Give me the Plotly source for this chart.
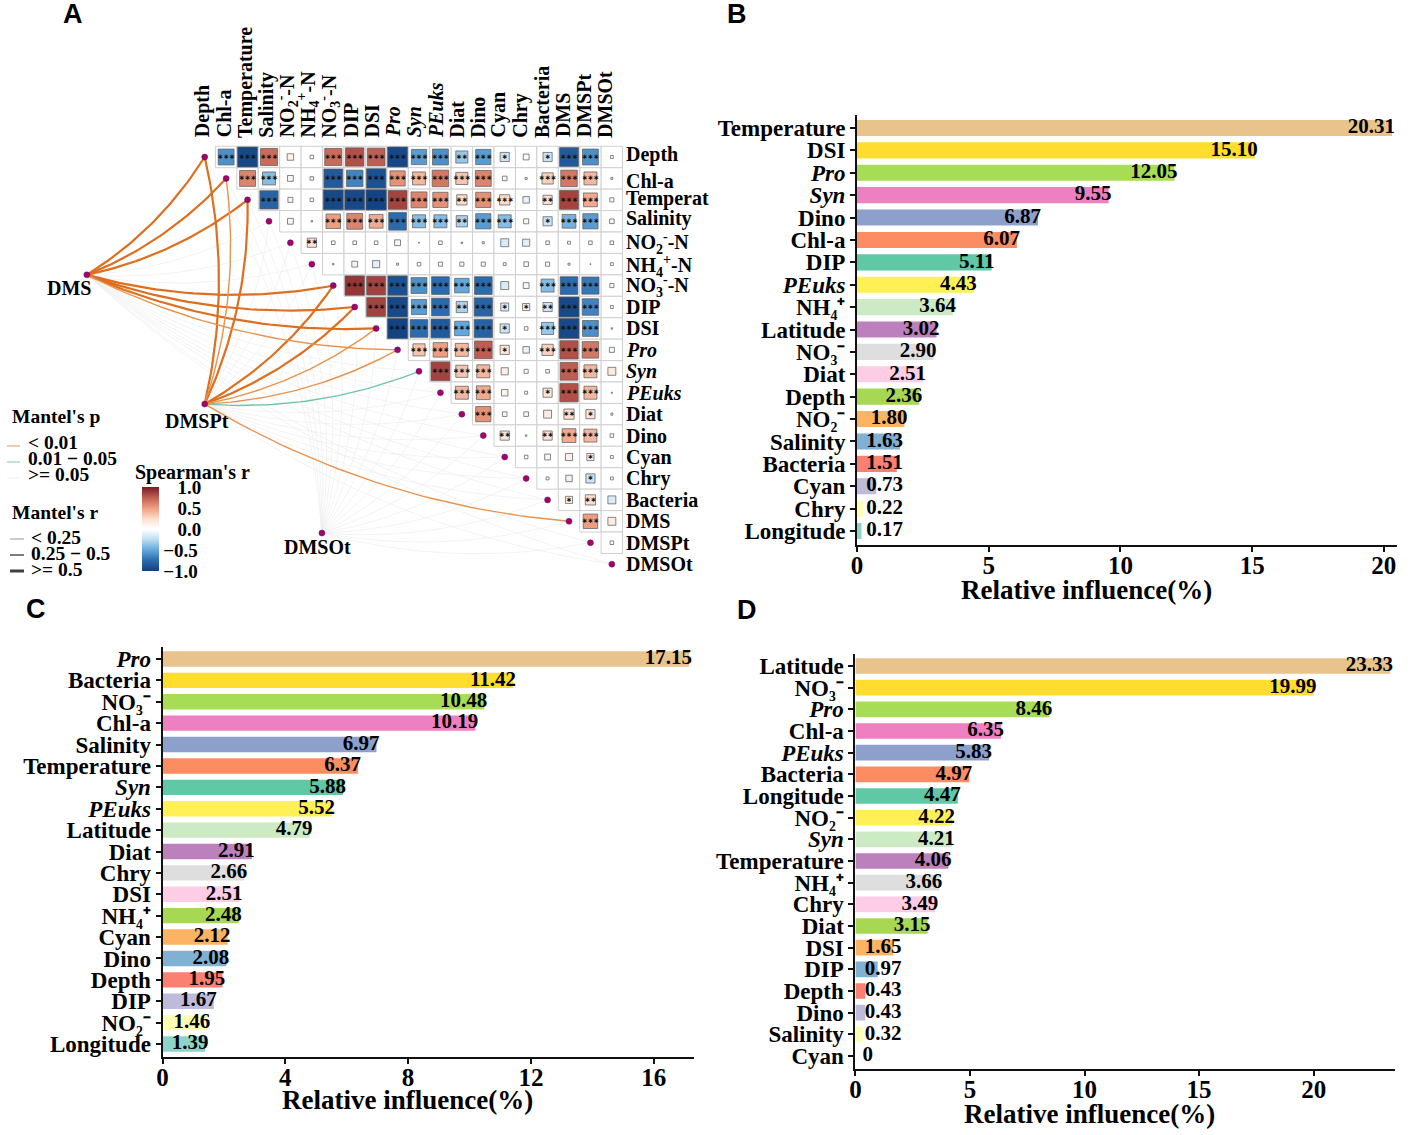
import numpy as np
import plotly.graph_objects as go

W, H = 1417, 1135
SERIF = "Liberation Serif"
SANS = "Liberation Sans"

# ---------- Panel A data ----------
variables = ["Depth", "Chl-a", "Temperature", "Salinity", "NO2", "NH4", "NO3", "DIP", "DSI", "Pro",
             "Syn", "PEuks", "Diat", "Dino", "Cyan", "Chry", "Bacteria", "DMS", "DMSPt", "DMSOt"]
top_labels = ["Depth", "Chl-a", "Temperature", "Salinity", "NO<sub>2</sub><sup>-</sup>-N", "NH<sub>4</sub><sup>+</sup>-N",
              "NO<sub>3</sub><sup>-</sup>-N", "DIP", "DSI", "<i>Pro</i>", "<i>Syn</i>", "<i>PEuks</i>", "Diat", "Dino",
              "Cyan", "Chry", "Bacteria", "DMS", "DMSPt", "DMSOt"]
row_labels = top_labels[:2] + ["Temperat"] + top_labels[3:]

corr_r = [
    [-.6, -.95, .7, .1, .03, .7, .8, .75, -.95, -.55, -.6, -.35, -.55, -.2, .08, -.2, -.85, -.6, -.02],
    [.6, -.4, .08, .03, -.85, -.65, -.9, .55, .4, .65, .35, .6, -.05, -.01, .3, .65, .4, -.01],
    [-.8, -.06, -.03, -.95, -.95, -.98, .85, .6, .55, .25, .55, .25, -.1, .2, .85, .45, -.04],
    [.08, .005, .5, .6, .45, -.75, -.4, -.4, -.3, -.55, -.4, .06, -.2, -.45, -.55, -.05],
    [.2, .03, .03, .03, .08, .002, .03, .005, .01, -.15, -.12, .03, .02, .03, .03],
    [.005, -.08, -.12, .01, .03, .04, .04, .04, .02, .05, .04, .01, .002, .02],
    [.9, .85, -.9, -.6, -.75, -.5, -.75, -.15, .08, -.4, -.75, -.7, -.04],
    [.85, -.95, -.55, -.75, -.3, -.8, -.15, .12, -.2, -.95, -.65, -.02],
    [-.98, -.75, -.85, -.5, -.8, -.2, -.03, -.35, -.95, -.6, -.005],
    [.35, .5, .4, .75, .2, -.1, .3, .8, .65, -.06],
    [.85, .35, .4, .12, .04, .03, .75, .4, .15],
    [.4, .45, .1, .02, .2, .8, .4, -.003],
    [.55, .05, .05, .15, .25, .2, .01],
    [.2, -.005, .2, .45, .4, .03],
    [.03, .08, .12, .12, -.02],
    [.02, -.1, -.2, .02],
    [.12, .25, -.15],
    [.5, .15],
    [.03],
]
corr_stars = [
    [3, 3, 3, 0, 0, 3, 3, 3, 3, 3, 3, 2, 3, 1, 0, 1, 3, 3, 0],
    [3, 3, 0, 0, 3, 3, 3, 3, 3, 3, 3, 3, 0, 0, 3, 3, 3, 0],
    [3, 0, 0, 3, 3, 3, 3, 3, 3, 2, 3, 3, 0, 2, 3, 3, 0],
    [0, 0, 3, 3, 3, 3, 3, 3, 2, 3, 3, 0, 1, 3, 3, 0],
    [2, 0, 0, 0, 0, 0, 0, 0, 0, 0, 0, 0, 0, 0, 0],
    [0, 0, 0, 0, 0, 0, 0, 0, 0, 0, 0, 0, 0, 0],
    [3, 3, 3, 3, 3, 3, 3, 0, 0, 3, 3, 3, 0],
    [3, 3, 3, 3, 2, 3, 1, 1, 2, 3, 3, 0],
    [3, 3, 3, 3, 3, 1, 0, 3, 3, 3, 0],
    [3, 3, 3, 3, 1, 0, 3, 3, 3, 0],
    [3, 3, 3, 0, 0, 0, 3, 3, 0],
    [3, 3, 0, 0, 1, 3, 3, 0],
    [3, 0, 0, 0, 2, 1, 0],
    [2, 0, 2, 3, 3, 0],
    [0, 0, 0, 1, 0],
    [0, 0, 1, 0],
    [1, 2, 0],
    [3, 0],
    [0],
]
# Mantel links: p class 0 (<0.01), 1 (0.01-0.05), 2 (>=0.05); r class 0 (<0.25), 1, 2 (>=0.5)
dms_p = [0, 0, 0, 2, 2, 2, 0, 0, 0, 0, 2, 2, 2, 2, 2, 2, 2, None, 2, 2]
dms_w = [2, 2, 2, 0, 0, 0, 2, 2, 2, 1, 0, 0, 0, 0, 0, 0, 0, None, 0, 0]
dmspt_p = [0, 0, 0, 2, 2, 2, 0, 0, 0, 0, 1, 2, 2, 2, 2, 2, 2, 0, None, 2]
dmspt_w = [2, 1, 2, 0, 0, 0, 2, 2, 1, 1, 1, 0, 0, 0, 0, 0, 0, 1, None, 0]
dmsot_p = [2] * 19 + [None]
dmsot_w = [0] * 19 + [None]
hubs = {"DMS": (-5.5, 5.5), "DMSPt": (0.0, 11.53), "DMSOt": (5.47, 17.55)}
hub_links = {"DMS": (dms_p, dms_w), "DMSPt": (dmspt_p, dmspt_w), "DMSOt": (dmsot_p, dmsot_w)}

# ---------- Bar panel data ----------
bar_colors = ["#E8C48C", "#FFDD2E", "#A6DD55", "#EE7FC0", "#8DA0CB", "#FC8D62", "#5FC8A5", "#FFF155", "#CCEBC5",
              "#BC80BD", "#DEDEDE", "#FCCDE5", "#A6D854", "#FDB462", "#80B1D3", "#FB8072", "#BEBADA", "#FFFFB3", "#8DD3C7"]
NO3 = "NO\u2083\u207b"
NO2 = "NO\u2082\u207b"
NH4 = "NH\u2084\u207a"
b_cats = ["Temperature", "DSI", "<i>Pro</i>", "<i>Syn</i>", "Dino", "Chl-a", "DIP", "<i>PEuks</i>", NH4, "Latitude",
          NO3, "Diat", "Depth", NO2, "Salinity", "Bacteria", "Cyan", "Chry", "Longitude"]
b_vals = [20.31, 15.10, 12.05, 9.55, 6.87, 6.07, 5.11, 4.43, 3.64, 3.02, 2.90, 2.51, 2.36, 1.80, 1.63, 1.51, 0.73, 0.22, 0.17]
c_cats = ["<i>Pro</i>", "Bacteria", NO3, "Chl-a", "Salinity", "Temperature", "<i>Syn</i>", "<i>PEuks</i>", "Latitude",
          "Diat", "Chry", "DSI", NH4, "Cyan", "Dino", "Depth", "DIP", NO2, "Longitude"]
c_vals = [17.15, 11.42, 10.48, 10.19, 6.97, 6.37, 5.88, 5.52, 4.79, 2.91, 2.66, 2.51, 2.48, 2.12, 2.08, 1.95, 1.67, 1.46, 1.39]
d_cats = ["Latitude", NO3, "<i>Pro</i>", "Chl-a", "<i>PEuks</i>", "Bacteria", "Longitude", NO2, "<i>Syn</i>", "Temperature",
          NH4, "Chry", "Diat", "DSI", "DIP", "Depth", "Dino", "Salinity", "Cyan"]
d_vals = [23.33, 19.99, 8.46, 6.35, 5.83, 4.97, 4.47, 4.22, 4.21, 4.06, 3.66, 3.49, 3.15, 1.65, 0.97, 0.43, 0.43, 0.32, 0]

# ---------- Layout helpers ----------
def dx(px): return px / W
def dy(py): return 1 - py / H

CELL = 21.43
X0, Y0 = 204.7, 157.0

fig = go.Figure()

# ---------- Panel A: links ----------
node_pos = {v: (i, i) for i, v in enumerate(variables)}

def curve(a, b, k=0.115, n=40):
    a, b = np.array(a, float), np.array(b, float)
    d = b - a
    c = (a + b) / 2 + k * np.array([-d[1], d[0]])
    t = np.linspace(0, 1, n)[:, None]
    return (1 - t) ** 2 * a + 2 * t * (1 - t) * c + t ** 2 * b

link_color = {(0, 2): "#DD6F1E", (0, 1): "#E8934F", (1, 1): "#6CC5A6"}
link_width = {0: 0.6, 1: 1.4, 2: 2.2}
groups = {}
for hub, (ps, ws) in hub_links.items():
    for v, p, w in zip(variables, ps, ws):
        if p is None:
            continue
        pts = curve(hubs[hub], node_pos[v])
        xs, ys = groups.setdefault((p, w), ([], []))
        xs.extend(pts[:, 0].tolist() + [None])
        ys.extend(pts[:, 1].tolist() + [None])
for (p, w), (xs, ys) in sorted(groups.items(), key=lambda kv: -kv[0][0]):
    fig.add_trace(go.Scatter(x=xs, y=ys, mode="lines", showlegend=False, hoverinfo="skip",
                             line=dict(color=link_color.get((p, w), "#EBEBEB"), width=link_width[w]),
                             xaxis="x", yaxis="y"))

# ---------- Panel A: correlation cells ----------
cx, cy, cr, cs = [], [], [], []
for i, row in enumerate(corr_r):
    for j, val in enumerate(row):
        cx.append(i + 1 + j)
        cy.append(i)
        cr.append(val)
        cs.append("\u2217" * corr_stars[i][j])
cr = np.array(cr)
scale = [[0, "#123F7F"], [.125, "#2B6BAD"], [.25, "#62A8DC"], [.375, "#BCDCF2"], [.49, "#FFFFFF"], [.51, "#FFFFFF"],
         [.625, "#FCDCCB"], [.75, "#EE9E80"], [.875, "#BE5E52"], [1, "#7A1A22"]]
fig.add_trace(go.Scatter(x=cx, y=cy, mode="markers", showlegend=False, hoverinfo="skip",
                         marker=dict(symbol="square", size=CELL, opacity=1, color="white", line=dict(color="#CFCFCF", width=1)),
                         xaxis="x", yaxis="y"))
fig.add_trace(go.Scatter(x=cx, y=cy, mode="markers", showlegend=False,
                         marker=dict(symbol="square", size=20.5 * np.sqrt(np.abs(cr)), opacity=1, color=cr, cmin=-1, cmax=1,
                                     colorscale=scale, line=dict(color="rgba(95,95,95,0.75)", width=1),
                                     colorbar=dict(x=dx(142), xanchor="left", y=dy(529), yanchor="middle",
                                                   lenmode="pixels", len=84, thicknessmode="pixels", thickness=17,
                                                   outlinewidth=0, ticks="", ticklabelposition="outside", xpad=0, ypad=0,
                                                   tickvals=[1, .5, 0, -.5, -1],
                                                   ticktext=["\u00a0\u00a0\u00a01.0", "\u00a0\u00a0\u00a00.5", "\u00a0\u00a0\u00a00.0", "\u22120.5", "\u22121.0"],
                                                   tickfont=dict(family=SERIF, size=19, weight="bold", color="black"))),
                         xaxis="x", yaxis="y"))
fig.add_trace(go.Scatter(x=cx, y=cy, mode="text", text=cs, textposition="middle center", showlegend=False, hoverinfo="skip",
                         textfont=dict(family="DejaVu Sans", size=7, weight="bold", color="#111111"),
                         xaxis="x", yaxis="y"))
# nodes
nx = [i for i in range(20)] + [p[0] for p in hubs.values()]
ny = [i for i in range(20)] + [p[1] for p in hubs.values()]
fig.add_trace(go.Scatter(x=nx, y=ny, mode="markers", showlegend=False, hoverinfo="skip",
                         marker=dict(size=6, opacity=1, color="#A5045F", line=dict(color="#4A1A8C", width=0.5)),
                         xaxis="x", yaxis="y"))

annotations = []
def text_xy(x, y, s, size=20, xanchor="center", yanchor="middle", angle=0, family=SERIF):
    annotations.append(dict(xref="x", yref="y", x=x, y=y, text=s, showarrow=False, xanchor=xanchor, yanchor=yanchor,
                            textangle=angle, borderpad=0, font=dict(family=family, size=size, weight="bold", color="black")))
def text_px(x, y, s, size=19.5, xanchor="left", yanchor="middle", family=SERIF):
    annotations.append(dict(xref="paper", yref="paper", x=dx(x), y=dy(y), text=s, showarrow=False, xanchor=xanchor, yanchor=yanchor,
                            borderpad=0, font=dict(family=family, size=size, weight="bold", color="black")))

row_nudge = [-0.14, 0.13, -0.05, -0.14, 0, 0.09] + [0] * 14
for i, lab in enumerate(top_labels):
    text_xy(i - 0.1 - 0.012 * i, -0.86, lab, yanchor="bottom", angle=-90)
for i, lab in enumerate(row_labels):
    text_xy(19.62, i + row_nudge[i], lab, xanchor="left")
text_px(69, 288, "DMS", 20, xanchor="center")
text_px(197, 421, "DMSPt", 20, xanchor="center")
text_px(317, 547, "DMSOt", 20, xanchor="center")

# legends of panel A
text_px(11, 417, "Mantel's p")
text_px(27, 443, "&lt; 0.01", 19.5)
text_px(27, 459, "0.01 \u2212 0.05", 19.5)
text_px(27, 475, "&gt;= 0.05", 19.5)
text_px(11, 512, "Mantel's r")
text_px(30, 537, "&lt; 0.25", 19.5)
text_px(30, 553, "0.25 \u2212 0.5", 19.5)
text_px(30, 569, "&gt;= 0.5", 19.5)
text_px(134, 472, "Spearman's r", 20)

shapes = []
def key(x0, x1, py, color, width):
    shapes.append(dict(type="line", xref="paper", yref="paper", x0=dx(x0), x1=dx(x1), y0=dy(py), y1=dy(py),
                       line=dict(color=color, width=width)))
key(7, 20, 446, "#E8A878", 1.2)
key(7, 20, 462, "#8FD3BC", 1.2)
key(7, 20, 478, "#F2F2F2", 1.0)
key(10, 24, 539, "#A8A8A8", 1.2)
key(10, 24, 555, "#707070", 1.8)
key(10, 24, 571, "#404040", 3)

# panel letters
text_px(73, 14, "A", 27, xanchor="center", family=SANS)
text_px(737, 14, "B", 27, xanchor="center", family=SANS)
text_px(36, 609, "C", 27, xanchor="center", family=SANS)
text_px(747, 610, "D", 27, xanchor="center", family=SANS)

# ---------- Bar panels ----------
def bar_panel(idx, cats, vals, left, right, top, bottom, first_y, last_y, ticks, title_x, title_y):
    ax = str(idx)
    ppu = (right - left) / max(vals)
    pad = 5 / ppu
    fig.add_trace(go.Bar(x=vals, y=cats, orientation="h", width=0.72, marker=dict(color=bar_colors, line=dict(width=0)),
                         showlegend=False, hoverinfo="x+y", cliponaxis=False, xaxis="x" + ax, yaxis="y" + ax))
    labels = ["0" if v == 0 else f"{v:.2f}" for v in vals]
    anchors = [max(v + 3 / ppu, (8 + 9.5 * len(t)) / ppu) for v, t in zip(vals, labels)]
    fig.add_trace(go.Scatter(x=anchors, y=cats, mode="text", text=labels, textposition="middle left", showlegend=False,
                             hoverinfo="skip", cliponaxis=False,
                             textfont=dict(family=SERIF, size=21, weight="bold", color="black"),
                             xaxis="x" + ax, yaxis="y" + ax))
    step = (last_y - first_y) / (len(cats) - 1)
    rng_top = (top - first_y) / step
    rng_bot = (bottom - first_y) / step
    axis_line = dict(showline=True, linecolor="#111111", linewidth=2, showgrid=False, zeroline=False, ticks="outside",
                     ticklen=5, tickwidth=1.5, tickcolor="#111111")
    fig.update_layout(**{
        "xaxis" + ax: dict(domain=[dx(left), dx(right + 5)], range=[0, max(vals) + pad], anchor="y" + ax, tickvals=ticks,
                           ticklabelstandoff=-8,
                           tickfont=dict(family=SERIF, size=25, weight="bold", color="black"), **axis_line),
        "yaxis" + ax: dict(domain=[dy(bottom), dy(top)], range=[rng_bot, rng_top], anchor="x" + ax, type="category",
                           categoryorder="array", categoryarray=cats, tickmode="linear", tick0=0, dtick=1,
                           tickfont=dict(family=SERIF, size=23, weight="bold", color="black"), **axis_line),
    })
    text_px(title_x, title_y, "Relative influence(%)", 27, xanchor="center")

bar_panel(2, b_cats, b_vals, 857, 1392, 115, 545, 128, 531, [0, 5, 10, 15, 20], 1086, 590)
bar_panel(3, c_cats, c_vals, 162.5, 689, 647, 1057, 659, 1044, [0, 4, 8, 12, 16], 407, 1100)
bar_panel(4, d_cats, d_vals, 855.4, 1390, 654, 1069, 666, 1056, [0, 5, 10, 15, 20], 1089, 1114)

# ---------- Layout ----------
fig.update_layout(
    width=W, height=H, margin=dict(l=0, r=0, t=0, b=0, autoexpand=False), paper_bgcolor="white", plot_bgcolor="rgba(0,0,0,0)",
    annotations=annotations, shapes=shapes, hovermode="closest",
    xaxis=dict(domain=[0, 710 / W], range=[(0 - X0) / CELL, (710 - X0) / CELL], visible=False, anchor="y"),
    yaxis=dict(domain=[dy(590), 1], range=[(590 - Y0) / CELL, (0 - Y0) / CELL], visible=False, anchor="x"),
)
fig.write_html("out.html", config={"displayModeBar": False}, post_script="document.body.style.margin='0';")
